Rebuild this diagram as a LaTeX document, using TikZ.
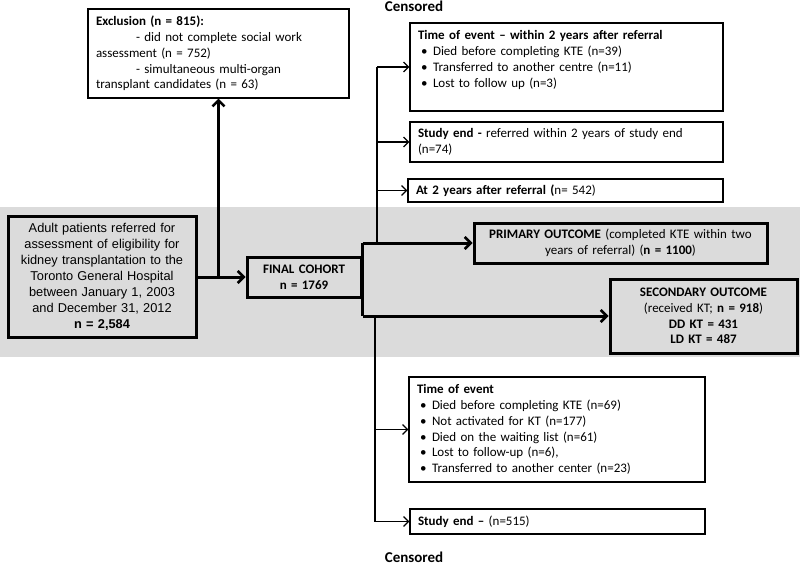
\documentclass[tikz,border=0pt]{standalone}
\usepackage{fontspec}
\setmainfont{Carlito}
\newfontfamily\arialfont{Liberation Sans}
\usetikzlibrary{arrows.meta}
\newcommand{\bitem}{\makebox[15pt][l]{\hspace{3pt}\textbullet}}
\tikzset{
  box/.style={draw, line width=1.3pt, inner xsep=8pt, inner ysep=2pt, align=left,
    font=\fontsize{13}{15.8}\selectfont},
  heavybox/.style={box, line width=3pt, align=center},
  thinline/.style={line width=1.2pt},
  heavyline/.style={line width=3pt},
  arr/.style={-{Straight Barb[length=5pt,width=10pt]}},
  heavyarr/.style={heavyline, -{Straight Barb[length=6pt,width=12pt,line width=2.5pt]}}
}

\begin{document}
\begin{tikzpicture}[x=1pt, y=-1pt]
  \useasboundingbox (0,0) rectangle (800,567);
  \fill[black!14] (0,207) rectangle (800,357);

  \node (excl) [box, text width=245pt, minimum height=89pt] at (218.5,53.5)
    {\textbf{Exclusion (n = 815):}\\
     \hspace*{40pt}- did not complete social work\\
     assessment (n = 752)\\
     \hspace*{40pt}- simultaneous multi-organ\\
     transplant candidates (n = 63)};
  \node (src) [heavybox, text width=172pt, minimum height=121pt,
    font=\arialfont\fontsize{12.8}{16}\selectfont] at (102,276.5)
    {Adult patients referred for\\ assessment of eligibility for\\
     kidney transplantation to the\\ Toronto General Hospital\\
     between January 1, 2003\\ and December 31, 2012\\ \textbf{n = 2,584}};
  \node (cohort) [heavybox, text width=98pt, minimum height=40pt] at (304,277)
    {\textbf{FINAL COHORT}\\ \textbf{n = 1769}};
  \node (primary) [heavybox, text width=277pt, minimum height=40pt] at (620.5,243)
    {\textbf{PRIMARY OUTCOME} (completed KTE within two\\
     years of referral) (\textbf{n = 1100})};
  \node (secondary) [heavybox, text width=171pt, minimum height=74pt] at (703.5,316)
    {\textbf{SECONDARY OUTCOME}\\ (received KT; \textbf{n = 918})\\
     \textbf{DD KT = 431}\\ \textbf{LD KT = 487}};

  \node (cen1) [box, text width=297pt, minimum height=88pt] at (566.5,67)
    {\textbf{Time of event -- within 2 years after referral}\\
     \bitem Died before completing KTE (n=39)\\
     \bitem Transferred to another centre (n=11)\\
     \bitem Lost to follow up (n=3)\\ \mbox{}};
  \node (cen2) [box, text width=297pt, minimum height=40pt] at (566.5,142)
    {\textbf{Study end -} referred within 2 years of study end\\ (n=74)};
  \node (cen3) [box, text width=299pt, minimum height=23pt] at (565.5,190.5)
    {\textbf{At 2 years after referral (}n= 542)};
  \node (low1) [box, text width=280pt, minimum height=105pt] at (557,429.5)
    {\textbf{Time of event}\\
     \bitem Died before completing KTE (n=69)\\
     \bitem Not activated for KT (n=177)\\
     \bitem Died on the waiting list (n=61)\\
     \bitem Lost to follow-up (n=6),\\
     \bitem Transferred to another center (n=23)};
  \node (low2) [box, text width=279pt, minimum height=25pt] at (557.5,521.5)
    {\textbf{Study end --} (n=515)};

  \node (toplabel) [font=\bfseries\fontsize{15}{17}\selectfont] at (414,6.5) {Censored};
  \node (botlabel) [font=\bfseries\fontsize{15}{17}\selectfont] at (414,557.5) {Censored};

  \coordinate (split) at (excl.south |- cohort.west);
  \coordinate (ctop) at (377,243);
  \coordinate (cbot) at (375,316);

  \draw[heavyarr] (src.east |- cohort.west) -- (cohort.west);
  \draw[heavyarr] (split) -- (excl.south);
  \draw[heavyline] (cohort.east |- primary.west) -- (cohort.east |- secondary.west);
  \draw[heavyarr] (cohort.east |- primary.west) -- (primary.west);
  \draw[heavyarr] (cohort.east |- secondary.west) -- (secondary.west);

  \draw[thinline] (ctop) -- (ctop |- cen1.west);
  \draw[thinline, arr] (ctop |- cen1.west) -- (cen1.west);
  \draw[thinline, arr] (ctop |- cen2.west) -- (cen2.west);
  \draw[thinline, arr] (ctop |- cen3.west) -- (cen3.west);
  \draw[thinline] (cbot) -- (cbot |- low2.west);
  \draw[thinline, arr] (cbot |- low1.west) -- (low1.west);
  \draw[thinline, arr] (cbot |- low2.west) -- (low2.west);
\end{tikzpicture}
\end{document}
